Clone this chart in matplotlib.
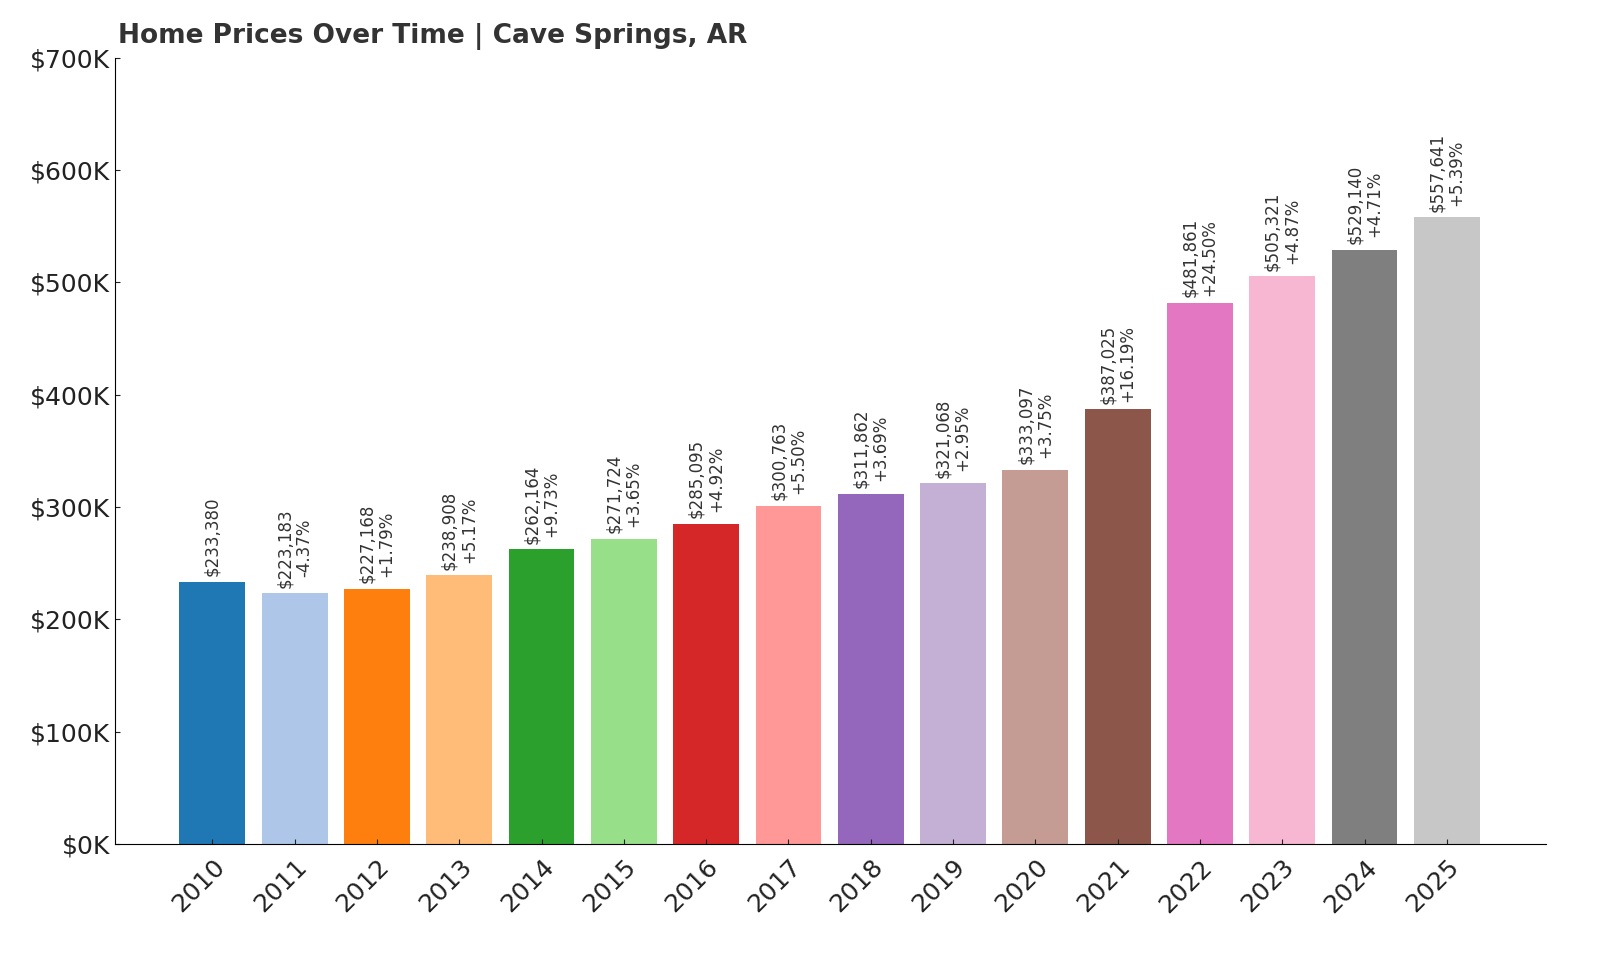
import matplotlib.pyplot as plt
import matplotlib.ticker as mticker

years = ["2010", "2011", "2012", "2013", "2014", "2015", "2016", "2017",
         "2018", "2019", "2020", "2021", "2022", "2023", "2024", "2025"]
prices = [233380, 223183, 227168, 238908, 262164, 271724, 285095, 300763,
          311862, 321068, 333097, 387025, 481861, 505321, 529140, 557641]
changes = [None, "-4.37%", "+1.79%", "+5.17%", "+9.73%", "+3.65%", "+4.92%", "+5.50%",
           "+3.69%", "+2.95%", "+3.75%", "+16.19%", "+24.50%", "+4.87%", "+4.71%", "+5.39%"]

colors = ["#1f77b4", "#aec7e8", "#ff7f0e", "#ffbb78", "#2ca02c", "#98df8a",
          "#d62728", "#ff9896", "#9467bd", "#c5b0d5", "#c49c94", "#8c564b",
          "#e377c2", "#f7b6d2", "#7f7f7f", "#c7c7c7"]

fig = plt.figure(figsize=(16, 9.6), dpi=100)
ax = fig.add_axes([0.072, 0.121, 0.894, 0.819])

x = range(len(years))
ax.bar(x, prices, width=0.8, color=colors)

for i, (p, c) in enumerate(zip(prices, changes)):
    label = f"${p:,}" if c is None else f"${p:,}\n{c}"
    ax.text(i, p + 5000, label, rotation=90, ha="center", va="bottom",
            fontsize=12, color="#333333", linespacing=1.1)

ax.set_ylim(0, 700000)
ax.set_xlim(-1.18, 16.2)
ax.yaxis.set_major_locator(mticker.MultipleLocator(100000))
ax.yaxis.set_major_formatter(mticker.FuncFormatter(lambda v, _: f"${v / 1000:.0f}K"))
ax.set_xticks(list(x))
ax.set_xticklabels(years, rotation=45, ha="right", rotation_mode="anchor")
ax.tick_params(axis="both", direction="in", labelsize=18, colors="#222222")
ax.tick_params(axis="x", pad=8)
ax.spines["top"].set_visible(False)
ax.spines["right"].set_visible(False)

fig.text(0.074, 0.962, "Home Prices Over Time | Cave Springs, AR", fontsize=19,
         fontweight="bold", color="#333333", va="center")

fig.savefig("out.png", dpi=100)
